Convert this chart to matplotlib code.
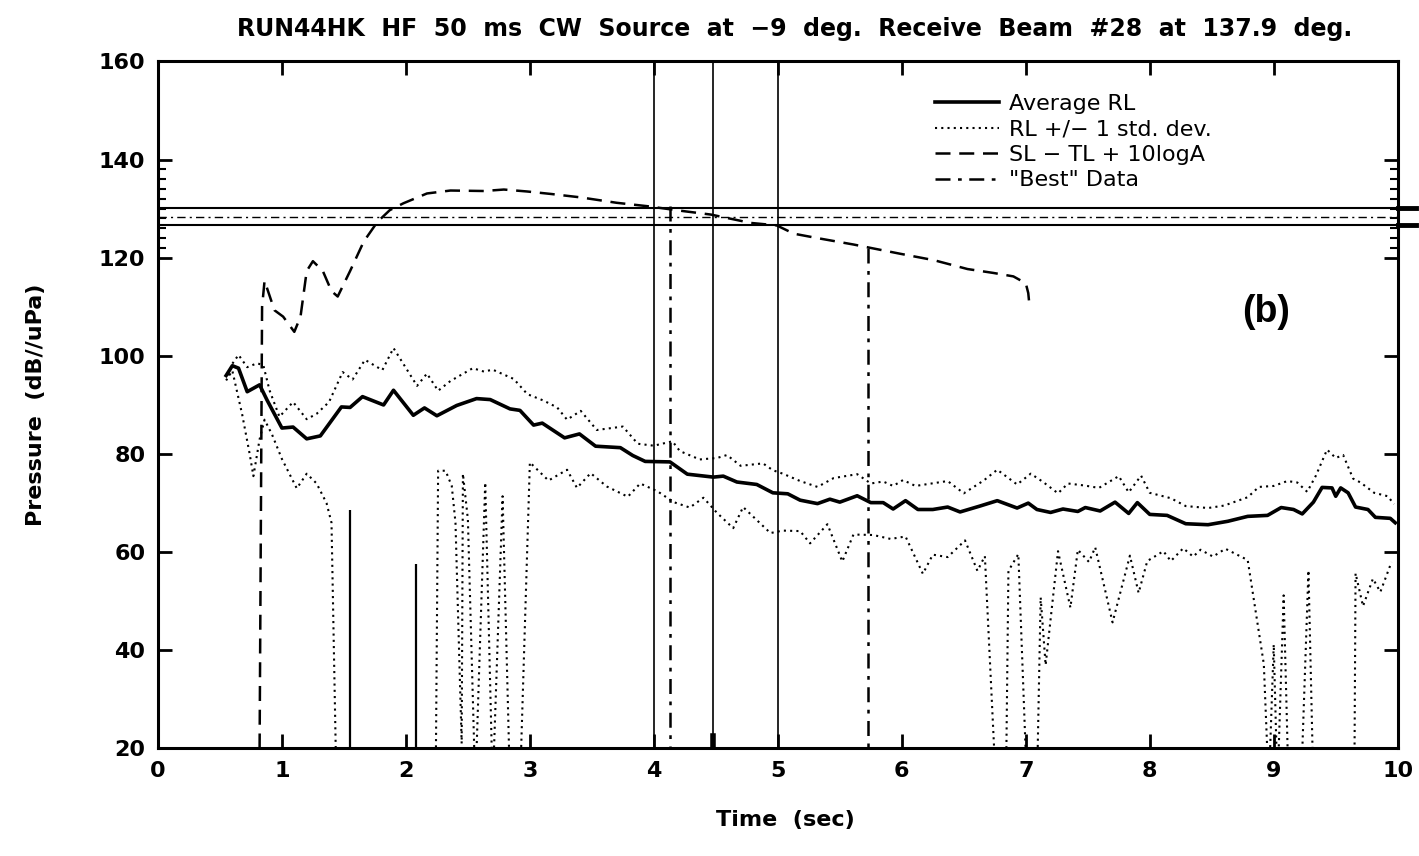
import matplotlib
matplotlib.use('Agg')
import matplotlib.pyplot as plt

# Average RL
t_avg = [0.55, 0.6, 0.65, 0.72, 0.82, 0.88, 1.0, 1.09, 1.2, 1.31, 1.48, 1.55, 1.65, 1.82, 1.9,
         2.06, 2.15, 2.25, 2.41, 2.57, 2.68, 2.84, 2.92, 3.03, 3.1, 3.28, 3.4, 3.53, 3.73, 3.83,
         3.93, 4.13, 4.27, 4.48, 4.56, 4.67, 4.83, 4.96, 5.08, 5.18, 5.32, 5.42, 5.5, 5.64, 5.75,
         5.85, 5.93, 6.03, 6.13, 6.25, 6.37, 6.47, 6.63, 6.77, 6.93, 7.02, 7.09, 7.2, 7.3, 7.42,
         7.48, 7.6, 7.72, 7.83, 7.9, 8.0, 8.14, 8.29, 8.47, 8.63, 8.79, 8.95, 9.06, 9.16, 9.23,
         9.32, 9.39, 9.47, 9.5, 9.54, 9.6, 9.66, 9.76, 9.82, 9.94, 9.98]
rl_avg = [96, 98, 97.5, 92.7, 94.1, 91, 85.3, 85.5, 83.1, 83.7, 89.6, 89.5, 91.7, 90, 93,
          87.9, 89.4, 87.8, 89.9, 91.3, 91.1, 89.2, 88.9, 85.9, 86.3, 83.3, 84.1, 81.6, 81.3, 79.7,
          78.5, 78.4, 75.9, 75.3, 75.5, 74.3, 73.8, 72.1, 71.9, 70.6, 69.9, 70.8, 70.2, 71.5, 70.1,
          70.1, 68.8, 70.5, 68.7, 68.7, 69.2, 68.2, 69.4, 70.5, 69, 70, 68.7, 68.1, 68.8, 68.3,
          69.1, 68.4, 70.2, 67.9, 70.1, 67.7, 67.5, 65.8, 65.6, 66.3, 67.3, 67.5, 69.1, 68.7, 67.8,
          70.2, 73.2, 73.1, 71.4, 73.1, 72.1, 69.2, 68.7, 67.1, 66.9, 66]

# RL + 1 std. dev.
t_up = [0.57, 0.6, 0.65, 0.72, 0.8, 0.85, 0.9, 0.98, 1.09, 1.2, 1.28, 1.38, 1.49, 1.57, 1.67,
        1.81, 1.9, 2.09, 2.17, 2.26, 2.36, 2.54, 2.63, 2.7, 2.87, 2.98, 3.11, 3.22, 3.3, 3.41,
        3.54, 3.75, 3.87, 4.0, 4.15, 4.21, 4.37, 4.51, 4.59, 4.7, 4.88, 4.96, 5.04, 5.18, 5.32,
        5.45, 5.64, 5.75, 5.85, 5.93, 6.01, 6.11, 6.37, 6.5, 6.66, 6.77, 6.93, 7.04, 7.14, 7.26,
        7.34, 7.47, 7.59, 7.75, 7.83, 7.93, 8.0, 8.17, 8.29, 8.47, 8.6, 8.79, 8.88, 9.0, 9.11,
        9.19, 9.27, 9.34, 9.43, 9.5, 9.56, 9.64, 9.7, 9.81, 9.92, 9.97]
rl_up = [96, 98.4, 100.2, 97.7, 98.5, 98.1, 93, 87.6, 90.6, 87.1, 88.2, 90.6, 96.7, 95.2, 99.2,
         97.1, 101.6, 93.9, 96.4, 92.9, 94.9, 97.5, 96.8, 97.2, 95.3, 92.2, 90.9, 89.5, 87, 88.8,
         84.9, 85.6, 82.1, 81.7, 82.6, 80.6, 78.9, 79.2, 79.8, 77.6, 78.1, 76.7, 76, 74.5, 73.3,
         75.1, 75.9, 74, 74.4, 73.5, 74.7, 73.5, 74.5, 72, 74.6, 76.8, 73.8, 76, 74.3, 72,
         74, 73.6, 73.1, 75.5, 72.2, 75.6, 72.1, 71, 69.4, 69, 69.5, 71.2, 73.3, 73.5, 74.5,
         74.2, 72.3, 75.6, 80.9, 79.2, 79.8, 75, 74.2, 72.1, 71.4, 69.8]

# RL - 1 std. dev. (values below 20 run off the axis)
t_lo = [0.55, 0.6, 0.68, 0.74, 0.77, 0.82, 0.86, 0.92, 1.0, 1.06, 1.12, 1.2, 1.28, 1.36, 1.4,
        1.44, 2.24, 2.26, 2.32, 2.37, 2.4, 2.45, 2.46, 2.5, 2.56, 2.64, 2.7, 2.78, 2.84, 2.92,
        3.0, 3.15, 3.3, 3.38, 3.49, 3.62, 3.79, 3.89, 4.03, 4.16, 4.29, 4.4, 4.51, 4.64, 4.72,
        4.94, 5.04, 5.18, 5.26, 5.4, 5.52, 5.61, 5.77, 5.91, 6.03, 6.17, 6.25, 6.37, 6.51, 6.61,
        6.67, 6.76, 6.84, 6.86, 6.94, 7.01, 7.09, 7.12, 7.16, 7.26, 7.36, 7.42, 7.51, 7.56, 7.7,
        7.84, 7.91, 7.98, 8.11, 8.17, 8.27, 8.35, 8.41, 8.51, 8.61, 8.79, 8.92, 8.96, 9.0, 9.03,
        9.08, 9.12, 9.22, 9.28, 9.32, 9.65, 9.66, 9.72, 9.8, 9.86, 9.95]
rl_lo = [95, 97, 88, 80, 75.5, 83, 87, 84, 79, 76, 73, 76, 74, 70, 66,
         12, 12, 76.6, 76.6, 73.5, 66, 21, 76, 66.7, 12, 74.2, 12, 71.4, 12, 12,
         78.3, 74.6, 76.8, 73.1, 76.1, 73.4, 71.3, 74, 72.4, 70.2, 69.1, 71.1, 68, 64.9, 69.2,
         63.9, 64.4, 64.3, 61.8, 65.7, 58.1, 63.6, 63.5, 62.7, 63.2, 55.6, 59.5, 59, 62.4, 56.2,
         59.2, 12, 12, 56.2, 59.6, 12, 12, 50.8, 37, 60.2, 48.7, 60.5, 58, 61, 45.7,
         59.3, 51.7, 58.2, 60.2, 58.2, 60.8, 59.1, 60.5, 59.1, 60.7, 58.4, 37.2, 12, 41.2, 12,
         51.2, 12, 12, 56.3, 12, 12, 55.7, 49, 54.6, 51.9, 58]

# SL - TL + 10logA
t_sl = [0.82, 0.84, 0.86, 0.94, 1.01, 1.1, 1.15, 1.2, 1.25, 1.33, 1.4, 1.45, 1.55, 1.66, 1.77,
        1.87, 1.98, 2.17, 2.36, 2.63, 2.79, 2.98, 3.17, 3.41, 3.7, 3.95, 4.24, 4.46, 4.78, 4.99,
        5.13, 5.32, 5.61, 5.77, 5.99, 6.26, 6.53, 6.74, 6.9, 7.0, 7.02, 7.03]
sl_tl = [20, 110, 115.3, 109.3, 108, 104.9, 108, 117.3, 119.3, 117.3, 113.2, 112.1, 117.3, 123.3, 127.3,
         129.7, 131.1, 133.1, 133.7, 133.6, 133.9, 133.5, 133, 132.3, 131.2, 130.5, 129.5, 128.8, 127.1, 126.6,
         124.9, 124, 122.7, 121.9, 120.8, 119.5, 117.7, 116.9, 116.2, 114.8, 112.8, 110.2]

# "Best" data window markers
best_t = [4.13, 5.73]
best_top = [130.5, 122.0]
window_t = [4.0, 4.48, 5.0]
spike_t = [1.55, 2.08]
spike_top = [68.6, 57.6]
level_solid = [130.2, 126.7]
level_dashdot = 128.4

title = 'RUN44HK  HF  50  ms  CW  Source  at  \u22129  deg.  Receive  Beam  #28  at  137.9  deg.'

fig = plt.figure(figsize=(14.19, 8.56), dpi=100)
ax = fig.add_axes([0.1113, 0.1256, 0.8737, 0.8026])

dot = (0, (1, 2))
dash = (0, (6, 3.5))
dashdot = (0, (6, 3, 1.5, 3))

ax.plot(t_avg, rl_avg, color='k', lw=2.6, label='Average RL')
ax.plot(t_up, rl_up, color='k', lw=1.5, ls=dot, label='RL +/\u2212 1 std. dev.')
ax.plot(t_lo, rl_lo, color='k', lw=1.5, ls=dot)
ax.plot(t_sl, sl_tl, color='k', lw=1.8, ls=dash, label='SL \u2212 TL + 10logA')
for t, top in zip(best_t, best_top):
    ax.plot([t, t], [top, 20], color='k', lw=1.8, ls=dashdot)
ax.plot([], [], color='k', lw=1.8, ls=dashdot, label='"Best" Data')

ax.vlines(window_t, 20, 160, color='k', lw=1.2)
ax.vlines(spike_t, 20, spike_top, color='k', lw=1.6)
ax.plot([4.48, 4.48], [20, 22.5], color='k', lw=4)

for lv in level_solid:
    ax.axhline(lv, color='k', lw=1.5)
    ax.plot([10, 10.15], [lv, lv], color='k', lw=3.5, clip_on=False)
ax.axhline(level_dashdot, color='k', lw=1.0, ls=dashdot)

ax.set_xlim(0, 10)
ax.set_ylim(20, 160)
ax.set_xticks(range(0, 11))
ax.set_yticks(range(20, 161, 20))
ax.set_yticks(range(122, 140, 2), minor=True)
ax.tick_params(direction='in', top=True, right=True, length=10, width=2,
               labelsize=16, pad=9)
ax.tick_params(which='minor', direction='in', left=True, right=True, length=6, width=1.5)
for lab in ax.get_xticklabels() + ax.get_yticklabels():
    lab.set_fontweight('bold')
for s in ax.spines.values():
    s.set_linewidth(2.2)

ax.set_xlabel('Time  (sec)', fontsize=16, fontweight='bold')
ax.xaxis.set_label_coords(0.506, -0.09)
ax.set_ylabel('Pressure  (dB//uPa)', fontsize=16, fontweight='bold')
ax.yaxis.set_label_coords(-0.09, 0.5)
fig.text(0.56, 0.966, title, ha='center', va='center', fontsize=17, fontweight='bold')

ax.text(0.894, 0.635, '(b)', transform=ax.transAxes, ha='center', va='center',
        fontsize=27, fontweight='bold', family='Liberation Sans')

ax.legend(loc='upper left', bbox_to_anchor=(0.6266, 0.953), frameon=False, fontsize=16,
          handlelength=2.9, handletextpad=0.45, labelspacing=0.25, borderpad=0,
          borderaxespad=0)

fig.savefig('out.png', dpi=100)
